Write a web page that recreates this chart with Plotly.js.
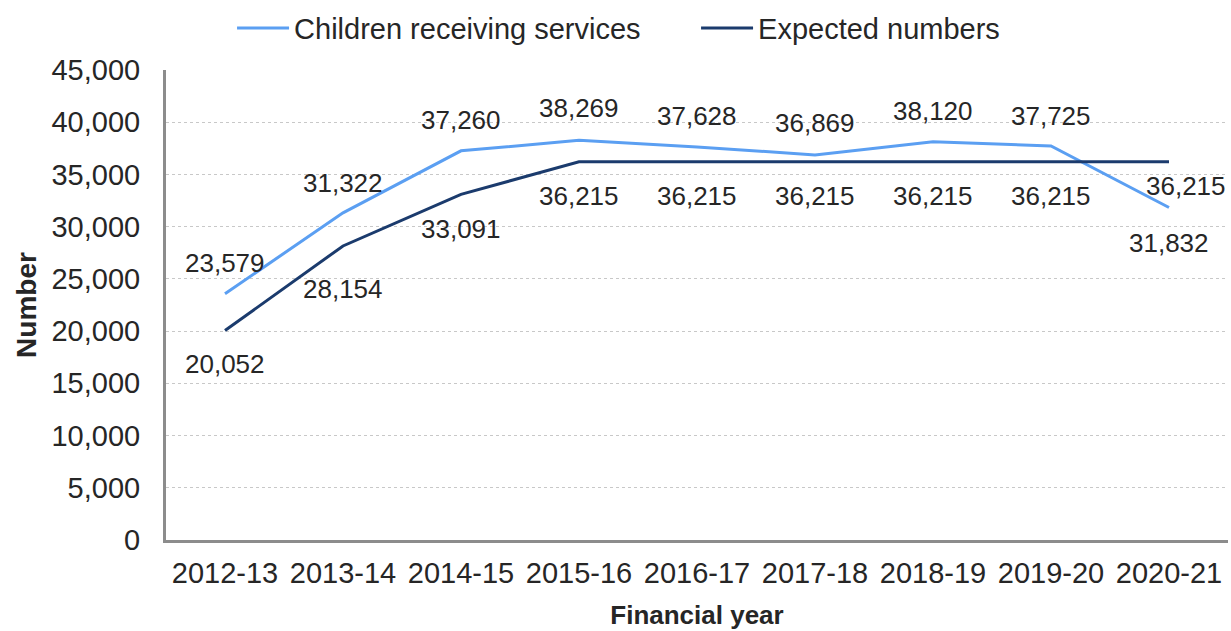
<!DOCTYPE html>
<html>
<head>
<meta charset="utf-8">
<script src="https://cdn.plot.ly/plotly-3.0.1.min.js"></script>
<style>html,body{margin:0;padding:0;background:#fff;}#chart{width:1231px;height:631px;}</style>
</head>
<body>
<div id="chart"></div>
<script>
const years = ["2012-13","2013-14","2014-15","2015-16","2016-17","2017-18","2018-19","2019-20","2020-21"];
const childrenReceiving = [23579,31322,37260,38269,37628,36869,38120,37725,31832];
const expectedNumbers = [20052,28154,33091,36215,36215,36215,36215,36215,36215];
const yTicks = [0,5000,10000,15000,20000,25000,30000,35000,40000,45000];

// label offsets (px) for data labels
const childShiftY = [31,30,31,32,31,32,31,30,-35];
const expShiftY = [-33,-43,-35,-34,-34,-34,-34,-34,-24];
const expShiftX = [0,0,0,0,0,0,0,0,17];

const fmt = v => v.toLocaleString('en-US');

const traces = [
  {x: years, y: childrenReceiving, type: 'scatter', mode: 'lines', name: 'Children receiving services',
   line: {color: '#5b9ff2', width: 3}, hoverinfo: 'x+y'},
  {x: years, y: expectedNumbers, type: 'scatter', mode: 'lines', name: 'Expected numbers',
   line: {color: '#1b3b6d', width: 3}, hoverinfo: 'x+y'}
];

const labelFont = {family: 'Liberation Sans, Arial, sans-serif', size: 26, color: '#262626'};
const annotations = [];
years.forEach((yr, i) => {
  annotations.push({x: yr, y: childrenReceiving[i], xref: 'x', yref: 'y', text: fmt(childrenReceiving[i]),
    showarrow: false, yshift: childShiftY[i], font: labelFont});
  annotations.push({x: yr, y: expectedNumbers[i], xref: 'x', yref: 'y', text: fmt(expectedNumbers[i]),
    showarrow: false, yshift: expShiftY[i], xshift: expShiftX[i], font: labelFont});
});

const layout = {
  width: 1231, height: 631,
  margin: {l: 166, r: 3, t: 70, b: 91},
  paper_bgcolor: '#fff', plot_bgcolor: '#fff',
  font: {family: 'Liberation Sans, Arial, sans-serif', color: '#262626'},
  showlegend: true,
  legend: {orientation: 'h', x: 0.0622, xanchor: 'left', y: 1.089, yanchor: 'middle',
    font: {size: 29, color: '#262626'}, bgcolor: 'rgba(0,0,0,0)', itemwidth: 52, entrywidth: 397},
  xaxis: {
    type: 'category', range: [-0.5, 8.5], showgrid: false,
    showline: true, linecolor: '#8c8c8c', linewidth: 3, ticks: '', zeroline: false,
    tickfont: {size: 29, color: '#262626'}, ticklabelstandoff: 5,
    title: {text: '<b>Financial year</b>', font: {size: 26, color: '#262626'}, standoff: 19}
  },
  yaxis: {
    range: [0, 45000], tickvals: yTicks, ticktext: yTicks.map(fmt),
    showgrid: true, gridcolor: '#c8c8c8', griddash: 'dot', gridwidth: 1,
    showline: true, linecolor: '#8c8c8c', linewidth: 3, ticks: '', zeroline: false,
    tickfont: {size: 29, color: '#262626'}, ticklabelstandoff: 17,
    title: {text: '<b>Number</b>', font: {size: 28, color: '#262626'}, standoff: 7}
  },
  annotations: annotations
};

Plotly.newPlot('chart', traces, layout, {displayModeBar: false, staticPlot: true});
</script>
</body>
</html>
